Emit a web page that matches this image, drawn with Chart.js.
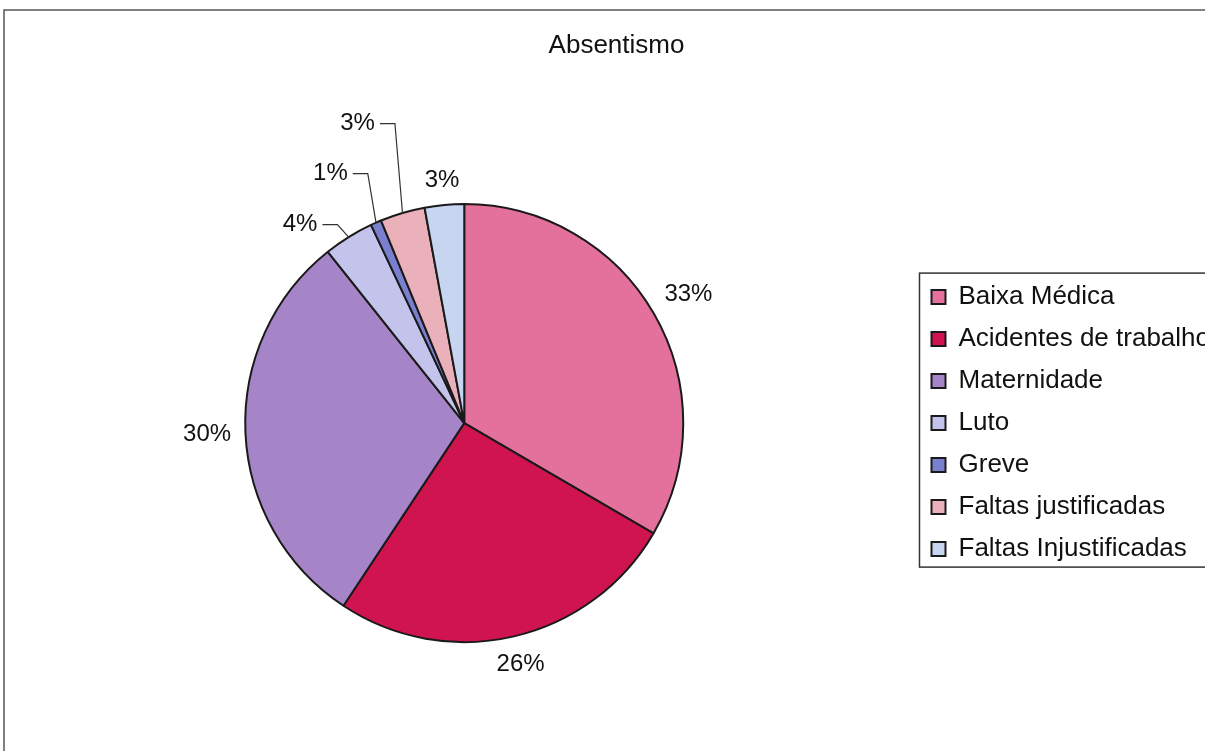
<!DOCTYPE html>
<html>
<head>
<meta charset="utf-8">
<title>Absentismo</title>
<script src="https://cdn.jsdelivr.net/npm/chart.js@4"></script>
<style>
  html, body { margin: 0; padding: 0; background: #fff; overflow: hidden; }
  #wrap { width: 1240px; height: 800px; }
</style>
</head>
<body>
<div id="wrap"><canvas id="absentismo" width="1240" height="800"></canvas></div>
<script>
// Absence breakdown (percent of total)
const categories = ["Baixa Médica", "Acidentes de trabalho", "Maternidade", "Luto", "Greve", "Faltas justificadas", "Faltas Injustificadas"];
const values = [33.4, 25.9, 30.0, 3.7, 0.8, 3.3, 2.9];
const colors = ["#e4709c", "#d01450", "#a684c8", "#c3c3ec", "#7b7fd0", "#ebb1bb", "#c8d5f1"];

const FONT = '"Liberation Sans", Arial, sans-serif';

// small slices get their label pulled out with a leader line: [angle deg clockwise from top, distance / radius]
const leaderLabels = { 3: [320.4, 1.176], 4: [331.8, 1.293], 5: [340.4, 1.452] };

// outer frame round the whole chart
const framePlugin = {
  id: "frame",
  beforeDraw(chart) {
    const ctx = chart.ctx;
    ctx.save();
    ctx.strokeStyle = "#555";
    ctx.lineWidth = 1.5;
    ctx.strokeRect(4, 10, chart.width + 20, chart.height + 20);
    ctx.restore();
  }
};

// box round the legend entries
const legendBoxPlugin = {
  id: "legendBox",
  afterDraw(chart) {
    const hits = chart.legend.legendHitBoxes;
    if (!hits || !hits.length) return;
    const first = hits[0], last = hits[hits.length - 1];
    const ctx = chart.ctx;
    ctx.save();
    ctx.strokeStyle = "#333";
    ctx.lineWidth = 1.5;
    const x = first.left - 12;
    const top = first.top - 11;
    const bottom = last.top + last.height + 5;
    ctx.strokeRect(x, top, chart.width, bottom - top);
    ctx.restore();
  }
};

// percentage labels outside the pie
const pctLabelPlugin = {
  id: "pctLabels",
  afterDatasetsDraw(chart) {
    const ctx = chart.ctx;
    const meta = chart.getDatasetMeta(0);
    const total = values.reduce((a, b) => a + b, 0);
    ctx.save();
    ctx.font = "24px " + FONT;
    ctx.fillStyle = "#111";
    ctx.textAlign = "center";
    ctx.textBaseline = "middle";
    meta.data.forEach((arc, i) => {
      const { x, y, startAngle, endAngle, outerRadius } = arc.getProps(["x", "y", "startAngle", "endAngle", "outerRadius"], true);
      const mid = (startAngle + endAngle) / 2;
      const text = Math.round(values[i] / total * 100) + "%";
      const w = ctx.measureText(text).width;
      const h = 19;
      if (leaderLabels[i]) {
        const [deg, k] = leaderLabels[i];
        const a = deg * Math.PI / 180 - Math.PI / 2;
        const tx = x + Math.cos(a) * outerRadius * k;
        const ty = y + Math.sin(a) * outerRadius * k;
        ctx.fillText(text, tx, ty);
        const ex = x + Math.cos(mid) * outerRadius;
        const ey = y + Math.sin(mid) * outerRadius;
        ctx.beginPath();
        ctx.strokeStyle = "#333";
        ctx.lineWidth = 1.2;
        ctx.moveTo(tx + w / 2 + 5, ty);
        ctx.lineTo(tx + w / 2 + 20, ty);
        ctx.lineTo(ex, ey);
        ctx.stroke();
      } else {
        const c = Math.cos(mid), s = Math.sin(mid);
        const half = Math.abs(c) * w / 2 + Math.abs(s) * h / 2;
        const d = outerRadius + 14 + half;
        ctx.fillText(text, x + c * d, y + s * d);
      }
    });
    ctx.restore();
  }
};

new Chart(document.getElementById("absentismo"), {
  type: "pie",
  data: {
    labels: categories,
    datasets: [{
      data: values,
      backgroundColor: colors,
      borderColor: "#1a1a1a",
      borderWidth: 2,
      radius: 219
    }]
  },
  options: {
    responsive: false,
    animation: false,
    events: [],
    layout: { padding: { left: 13, right: 20, top: 0, bottom: 15 } },
    plugins: {
      title: {
        display: true,
        text: "Absentismo",
        color: "#111",
        font: { family: FONT, size: 26, weight: "normal" },
        padding: { top: 30, bottom: 0 }
      },
      legend: {
        position: "right",
        fullSize: false,
        labels: {
          color: "#111",
          font: { family: FONT, size: 26 },
          boxWidth: 14,
          boxHeight: 14,
          padding: 16
        }
      },
      tooltip: { enabled: false }
    }
  },
  plugins: [framePlugin, legendBoxPlugin, pctLabelPlugin]
});
</script>
</body>
</html>
